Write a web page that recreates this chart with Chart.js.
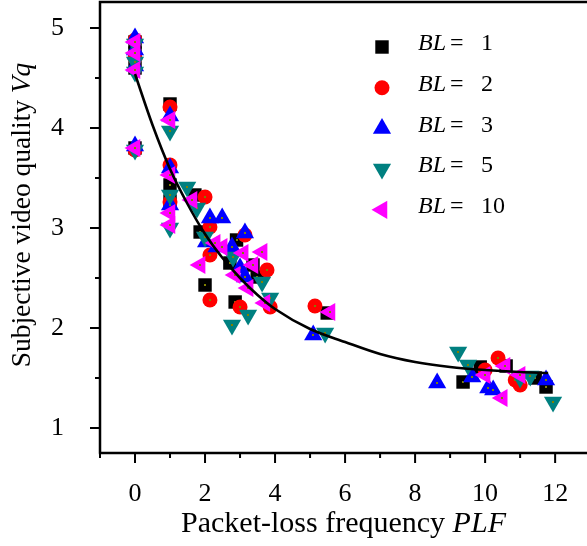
<!DOCTYPE html>
<html>
<head>
<meta charset="utf-8">
<script src="https://cdn.jsdelivr.net/npm/chart.js@4"></script>
<style>
  html, body { margin: 0; padding: 0; background: #fff; }
  #wrap { width: 587px; height: 546px; position: relative; }
</style>
</head>
<body>
<div id="wrap"><canvas id="vqChart"></canvas></div>
<script>
// values
const bl1X = [0, 0, 0, 0, 1, 1, 1, 1.71, 1.86, 2.0, 2.9, 2.71, 3.37, 3.49, 2.86, 5.49, 9.37, 9.86, 10.6, 11.43, 11.74];
const bl1Y = [4.86, 4.75, 4.6, 3.8, 4.24, 3.43, 3.27, 3.33, 2.96, 2.43, 2.88, 2.65, 2.63, 2.51, 2.26, 2.15, 1.46, 1.61, 1.62, 1.50, 1.41];

const bl2X = [0, 0, 0, 1, 1, 1, 2.0, 2.14, 2.14, 2.14, 3.14, 3.77, 3.0, 3.86, 5.14, 10.37, 10.0, 10.86, 11.0];
const bl2Y = [4.88, 4.7, 3.78, 4.21, 3.63, 3.26, 3.31, 3.01, 2.73, 2.28, 2.93, 2.58, 2.21, 2.21, 2.22, 1.70, 1.58, 1.48, 1.43];

const bl3X = [0, 0, 0, 0, 1, 1, 1, 2.14, 2.49, 2.03, 2.33, 3.14, 2.77, 3.0, 3.14, 5.09, 8.63, 9.63, 10.09, 10.23, 11.74];
const bl3Y = [4.9, 4.78, 4.62, 3.82, 4.12, 3.6, 3.23, 3.10, 3.10, 2.86, 2.81, 2.95, 2.81, 2.6, 2.51, 1.93, 1.45, 1.51, 1.40, 1.38, 1.48];

const bl5X = [0, 0, 0, 0, 1, 1, 1, 1.49, 1.77, 2.0, 2.8, 3.63, 3.23, 2.77, 3.86, 5.43, 9.23, 9.51, 11.0, 11.29, 11.94];
const bl5Y = [4.84, 4.66, 4.56, 3.78, 3.97, 3.33, 3.0, 3.41, 3.2, 2.91, 2.71, 2.46, 2.13, 2.03, 2.30, 1.95, 1.76, 1.63, 1.50, 1.52, 1.26];

const bl10X = [0, 0, 0, 0, 1, 1, 1, 1, 1.63, 2.29, 1.86, 2.49, 3.09, 3.63, 3.37, 2.86, 3.23, 3.71, 5.57, 10.57, 10.0, 11.0, 10.49];
const bl10Y = [4.86, 4.75, 4.58, 3.8, 4.08, 3.53, 3.15, 3.03, 3.28, 2.85, 2.63, 2.81, 2.75, 2.76, 2.63, 2.53, 2.40, 2.25, 2.16, 1.62, 1.53, 1.53, 1.30];

const fitX = [0, 0.5, 1, 1.5, 2, 2.5, 3, 3.5, 4, 5, 6, 7, 8, 9, 10, 11, 11.8];
const fitY = [4.54, 4.03, 3.59, 3.24, 2.94, 2.70, 2.50, 2.33, 2.19, 1.99, 1.86, 1.74, 1.66, 1.61, 1.58, 1.56, 1.55];

const seriesNames = ['1', '2', '3', '5', '10'];
const xTickValues = [0, 2, 4, 6, 8, 10, 12];
const yTickValues = [1, 2, 3, 4, 5];
const xMinorValues = [-1, 1, 3, 5, 7, 9, 11, 13];
const yMinorValues = [1.5, 2.5, 3.5, 4.5];

const FONT = "'Liberation Serif', 'Times New Roman', serif";

const markers = [
  { color: '#000000', style: 'rect', radius: 9.5, rotation: 0 },
  { color: '#ff0000', style: 'circle', radius: 7.5, rotation: 0 },
  { color: '#0000ff', style: 'triangle', radius: 10.5, rotation: 0 },
  { color: '#008080', style: 'triangle', radius: 10.5, rotation: 180 },
  { color: '#ff00ff', style: 'triangle', radius: 10.5, rotation: -90 }
];

function toPoints(xs, ys) {
  return xs.map((x, i) => ({ x: x, y: ys[i] }));
}

const seriesData = [
  toPoints(bl1X, bl1Y),
  toPoints(bl2X, bl2Y),
  toPoints(bl3X, bl3Y),
  toPoints(bl5X, bl5Y),
  toPoints(bl10X, bl10Y)
];

const datasets = seriesData.map((pts, i) => ({
  label: 'BL = ' + seriesNames[i],
  data: pts,
  backgroundColor: markers[i].color,
  borderColor: markers[i].color,
  borderWidth: 0,
  pointStyle: markers[i].style,
  pointRadius: markers[i].radius,
  rotation: markers[i].rotation,
  order: 5 - i + 1
}));

datasets.push({
  label: 'fit',
  type: 'line',
  data: toPoints(fitX, fitY),
  borderColor: '#000',
  borderWidth: 2.6,
  pointRadius: 0,
  fill: false,
  cubicInterpolationMode: 'monotone',
  order: 0
});

function drawMarker(ctx, m, x, y) {
  ctx.save();
  ctx.fillStyle = m.color;
  ctx.beginPath();
  if (m.style === 'circle') {
    ctx.arc(x, y, m.radius, 0, Math.PI * 2);
  } else if (m.style === 'rect') {
    const s = m.radius * Math.SQRT1_2;
    ctx.rect(x - s, y - s, 2 * s, 2 * s);
  } else {
    let rad = m.rotation * Math.PI / 180;
    for (let k = 0; k < 3; k++) {
      const px = x + Math.sin(rad) * m.radius;
      const py = y - Math.cos(rad) * m.radius;
      if (k === 0) ctx.moveTo(px, py); else ctx.lineTo(px, py);
      rad += 2 * Math.PI / 3;
    }
  }
  ctx.closePath();
  ctx.fill();
  ctx.restore();
}

const decorPlugin = {
  id: 'decor',
  afterDatasetDraw(chart, args) {
    if (args.index > 4) return;
    const ctx = chart.ctx;
    ctx.save();
    ctx.fillStyle = '#808000';
    args.meta.data.forEach(el => {
      ctx.fillRect(Math.round(el.x) - 1, Math.round(el.y) - 1, 2, 2);
    });
    ctx.restore();
  },
  afterDraw(chart) {
    const ctx = chart.ctx;
    const area = chart.chartArea;
    const xs = chart.scales.x;
    const ys = chart.scales.y;
    ctx.save();

    // frame
    ctx.strokeStyle = '#000';
    ctx.lineWidth = 2.5;
    ctx.beginPath();
    ctx.moveTo(area.left, area.bottom);
    ctx.lineTo(area.left, area.top);
    ctx.lineTo(area.right + 5, area.top);
    ctx.moveTo(area.left - 1.2, area.bottom);
    ctx.lineTo(area.right + 5, area.bottom);
    ctx.stroke();

    // ticks, outward
    ctx.lineWidth = 2;
    ctx.beginPath();
    xTickValues.forEach(v => {
      const p = xs.getPixelForValue(v);
      ctx.moveTo(p, area.bottom); ctx.lineTo(p, area.bottom + 10);
    });
    xMinorValues.forEach(v => {
      const p = xs.getPixelForValue(v);
      ctx.moveTo(p, area.bottom); ctx.lineTo(p, area.bottom + 5);
    });
    yTickValues.forEach(v => {
      const p = ys.getPixelForValue(v);
      ctx.moveTo(area.left, p); ctx.lineTo(area.left - 10, p);
    });
    yMinorValues.forEach(v => {
      const p = ys.getPixelForValue(v);
      ctx.moveTo(area.left, p); ctx.lineTo(area.left - 5, p);
    });
    ctx.stroke();

    // axis titles
    ctx.fillStyle = '#000';
    ctx.textBaseline = 'alphabetic';
    ctx.textAlign = 'left';
    let t1 = 'Packet-loss frequency ', t2 = 'PLF';
    ctx.font = '30px ' + FONT; const w1 = ctx.measureText(t1).width;
    ctx.font = 'italic 30px ' + FONT; const w2 = ctx.measureText(t2).width;
    let x0 = (area.left + area.right) / 2 - (w1 + w2) / 2;
    ctx.font = '30px ' + FONT; ctx.fillText(t1, x0, 532);
    ctx.font = 'italic 30px ' + FONT; ctx.fillText(t2, x0 + w1, 532);

    t1 = 'Subjective video quality '; t2 = 'Vq';
    ctx.font = '27.5px ' + FONT; const w3 = ctx.measureText(t1).width;
    ctx.font = 'italic 27.5px ' + FONT; const w4 = ctx.measureText(t2).width;
    ctx.save();
    ctx.translate(30, 215);
    ctx.rotate(-Math.PI / 2);
    x0 = -(w3 + w4) / 2;
    ctx.font = '27.5px ' + FONT; ctx.fillText(t1, x0, 0);
    ctx.font = 'italic 27.5px ' + FONT; ctx.fillText(t2, x0 + w3, 0);
    ctx.restore();

    // legend
    ctx.textBaseline = 'middle';
    seriesNames.forEach((name, i) => {
      const ty = 44 + i * 40.7;
      drawMarker(ctx, markers[i], 382, ty + 3);
      ctx.font = 'italic 24px ' + FONT;
      ctx.fillText('BL', 418, ty);
      ctx.font = '24px ' + FONT;
      ctx.fillText('=', 450, ty);
      ctx.fillText(name, 481, ty);
    });
    ctx.restore();
  }
};

new Chart(document.getElementById('vqChart'), {
  type: 'scatter',
  data: { datasets: datasets },
  options: {
    responsive: true,
    maintainAspectRatio: false,
    animation: false,
    devicePixelRatio: 1,
    layout: { autoPadding: false, padding: { top: 2, right: 0, left: 0, bottom: 0 } },
    scales: {
      x: {
        type: 'linear',
        min: -1,
        max: 12.91,
        grid: { display: false },
        border: { display: false },
        afterBuildTicks: (scale) => { scale.ticks = xTickValues.map(v => ({ value: v })); },
        afterFit: (scale) => { scale.height = 93; scale.paddingLeft = 0; scale.paddingRight = 0; },
        ticks: { color: '#000', padding: 18, maxRotation: 0, font: { family: FONT, size: 26 } }
      },
      y: {
        type: 'linear',
        min: 0.75,
        max: 5.26,
        grid: { display: false },
        border: { display: false },
        afterBuildTicks: (scale) => { scale.ticks = yTickValues.map(v => ({ value: v })); },
        afterFit: (scale) => { scale.width = 100; scale.paddingTop = 0; scale.paddingBottom = 0; },
        ticks: { color: '#000', padding: 28, font: { family: FONT, size: 26 } }
      }
    },
    plugins: {
      legend: { display: false },
      tooltip: { enabled: false }
    }
  },
  plugins: [decorPlugin]
});
</script>
</body>
</html>
